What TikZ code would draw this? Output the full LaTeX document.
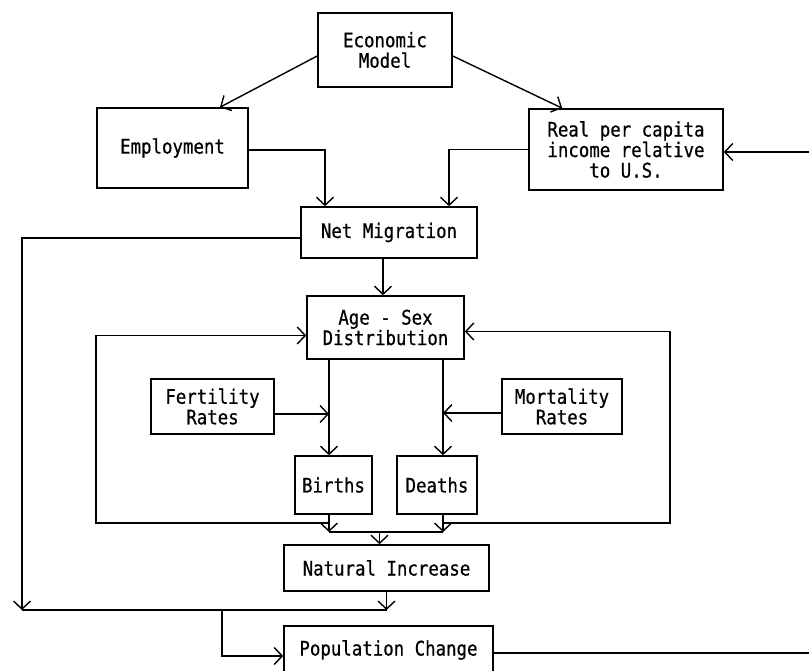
\documentclass[tikz,border=0pt]{standalone}
\usepackage{fontspec}
\newfontfamily\tw[FakeStretch=0.87,FakeBold=0.6]{DejaVu Sans Mono}
\usetikzlibrary{arrows.meta}
\begin{document}
\begin{tikzpicture}[x=1pt,y=-1pt,
  box/.style={draw,line width=1.6pt,inner sep=0pt,align=center,font=\tw\fontsize{20}{20.5}\selectfont},
  arr/.style={-{Straight Barb[length=8pt,width=17pt,line width=1.4pt]},line width=1.4pt},
  ln/.style={line width=1.4pt}]
\clip (0,0) rectangle (809,671);
\node[box,minimum width=134pt,minimum height=74pt] (econ) at (385,50) {Economic\\Model};
\node[box,minimum width=151pt,minimum height=80pt] (emp) at (172.5,148) {Employment};
\node[box,minimum width=194pt,minimum height=81pt] (real) at (626,149.5) {Real per capita\\income relative\\to U.S.};
\node[box,minimum width=176pt,minimum height=51pt] (net) at (389,232.5) {Net Migration};
\node[box,minimum width=157pt,minimum height=63pt] (age) at (385.5,327.5) {Age - Sex\\Distribution};
\node[box,minimum width=123pt,minimum height=55pt] (fert) at (212.5,406.5) {Fertility\\Rates};
\node[box,minimum width=120pt,minimum height=55pt] (mort) at (562,406.5) {Mortality\\Rates};
\node[box,minimum width=77pt,minimum height=58pt] (births) at (333.5,485) {Births};
\node[box,minimum width=80pt,minimum height=58pt] (deaths) at (437,485) {Deaths};
\node[box,minimum width=205pt,minimum height=46pt] (nat) at (386.5,568) {Natural Increase};
\node[box,minimum width=209pt,minimum height=48pt] (pop) at (388.5,650) {Population Change};
% helper coordinates
\coordinate (inR) at (809,152);
\coordinate (outR) at (809,653);
\coordinate (jL) at (22,610);
\coordinate (jB) at (222,610);
\coordinate (lb) at (96,523);
\coordinate (rb) at (670,523);
\coordinate (jI) at (0,532);
\coordinate (bx) at ([xshift=-56.5pt]age.south);
\coordinate (dx) at ([xshift=57.5pt]age.south);
\coordinate (fo) at ([yshift=-7.5pt]fert.east);
\coordinate (mo) at ([yshift=-6.5pt]mort.west);
\coordinate (no) at ([xshift=-6pt]net.south);
\coordinate (po) at ([yshift=-6pt]pop.west);
\coordinate (ai) at ([yshift=-8pt]age.west);
\coordinate (ae) at ([yshift=-4pt]age.east);
\coordinate (nin) at ([xshift=-7pt]nat.north);
\coordinate (eo1) at ([yshift=-6pt]econ.west);
\coordinate (eo2) at ([yshift=-6pt]econ.east);
\coordinate (empo) at ([yshift=-2pt]emp.east);
\coordinate (nmo) at ([yshift=-5.5pt]net.west);
% connectors
\draw[arr] (eo1) -- ([xshift=47.5pt]emp.north);
\draw[arr] (eo2) -- ([xshift=34pt]real.north west);
\draw[arr] (empo) -| ([xshift=-64pt]net.north);
\draw[arr] (real.west) -| ([xshift=60pt]net.north);
\draw[arr] (inR) -- (inR -| real.east);
\draw[arr] (no) -- (no |- age.north);
\draw[arr] (nmo) -| (jL);
\draw[ln] (jL) -- (nat.south |- jL);
\draw[arr] (nat.south) -- (nat.south |- jL);
\draw[arr] (jB) |- (po);
\draw[ln] (outR -| pop.east) -- (outR);
\draw[arr] (bx) -- (bx |- births.north);
\draw[arr] (dx) -- (dx |- deaths.north);
\draw[arr] (fo) -- (fo -| bx);
\draw[arr] (mo) -- (mo -| dx);
\draw[arr] (bx |- births.south) -- (bx |- jI);
\draw[arr] (dx |- deaths.south) -- (dx |- jI);
\draw[ln] (bx |- jI) -- (dx |- jI);
\draw[arr] (nin |- jI) -- (nin);
\draw[arr] (bx |- lb) -- (lb) |- (ai);
\draw[arr] (dx |- rb) -- (rb) |- (ae);
\end{tikzpicture}
\end{document}
